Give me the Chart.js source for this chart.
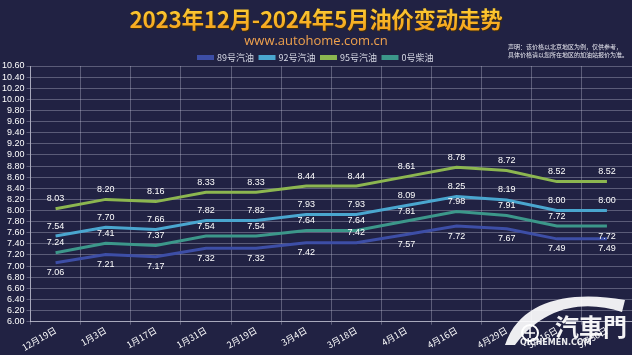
<!DOCTYPE html>
<html><head><meta charset="utf-8">
<script src="https://cdn.jsdelivr.net/npm/chart.js@4/dist/chart.umd.min.js"></script>
<style>
html,body{margin:0;padding:0;background:#212243;width:632px;height:355px;overflow:hidden;}
#wrap{position:relative;width:632px;height:355px;}
#c{position:absolute;left:0;top:0;}
.title{position:absolute;left:0;width:632px;top:2px;text-align:center;font:bold 22.5px "Noto Sans CJK SC";letter-spacing:-0.3px;
 background:linear-gradient(#ffd83a,#f39a18);-webkit-background-clip:text;background-clip:text;-webkit-text-fill-color:transparent;
 filter:drop-shadow(1px 1px 0 #3a2a10);}
.sub{position:absolute;left:0;width:632px;top:31px;text-align:center;font:13px "Open Sans";color:#f0a24e;}
.note{position:absolute;left:508px;top:43px;font:6px "Noto Sans CJK SC";color:#e8e8f0;line-height:8px;white-space:nowrap;}
.wm{position:absolute;left:555px;top:308px;font:bold 24px "Noto Sans CJK TC";color:#fff;opacity:0.95;}
.wm2{position:absolute;left:520px;top:338px;font:bold 8px "DejaVu Sans";color:#fff;opacity:0.9;}
svg{position:absolute;left:0;top:0;}
</style></head>
<body><div id="wrap">
<canvas id="c" width="632" height="355"></canvas>
<div class="title">2023年12月-2024年5月油价变动走势</div>
<div class="sub">www.autohome.com.cn</div>
<div class="note">声明：该价格以北京地区为例，仅供参考，<br>具体价格请以您所在地区的加油站报价为准。</div>
<svg width="632" height="355"><path d="M505 345 C 520 300, 570 290, 625 300 L 622 312 C 585 300, 545 305, 515 345 Z" fill="#ffffff" opacity="0.92"/>
<circle cx="530" cy="333" r="8" fill="none" stroke="#fff" stroke-width="2"/><path d="M525 333 H535 M530 328 V338" stroke="#fff" stroke-width="1.5"/></svg>
<div class="wm">汽車門</div>
<div class="wm2">QICHEMEN.COM</div>
</div>
<script>
const categories = ["12月19日","1月3日","1月17日","1月31日","2月19日","3月4日","3月18日","4月1日","4月16日","4月29日","5月16日","5月30日"];
const seriesNames = ["89号汽油","92号汽油","95号汽油","0号柴油"];
const gas89 = [7.06,7.21,7.17,7.32,7.32,7.42,7.42,7.57,7.72,7.67,7.49,7.49];
const gas92 = [7.54,7.70,7.66,7.82,7.82,7.93,7.93,8.09,8.25,8.19,8.00,8.00];
const gas95 = [8.03,8.20,8.16,8.33,8.33,8.44,8.44,8.61,8.78,8.72,8.52,8.52];
const diesel0 = [7.24,7.41,7.37,7.54,7.54,7.64,7.64,7.81,7.98,7.91,7.72,7.72];
const yTicksMin = 6.00, yTicksMax = 10.60, yTickStep = 0.20;

const colors = ["#3d4ea6","#4aa6cf","#8cb650","#3c978a"];
// label placement: -1 above, +1 below
const labelSide = [
  [1,1,1,1,1,1,-1,1,1,1,1,1],
  [-1,-1,-1,-1,-1,-1,-1,-1,-1,-1,-1,-1],
  [-1,-1,-1,-1,-1,-1,-1,-1,-1,-1,-1,-1],
  [-1,-1,-1,-1,-1,-1,-1,-1,-1,-1,-1,1]
];

const labelPlugin = {
  id:'vlabels',
  afterDatasetsDraw(chart){
    const ctx = chart.ctx;
    ctx.save();
    ctx.font = '9px "Liberation Sans"';
    ctx.fillStyle = '#ffffff';
    ctx.textAlign = 'center';
    ctx.textBaseline = 'middle';
    chart.data.datasets.forEach((ds,di)=>{
      chart.getDatasetMeta(di).data.forEach((pt,i)=>{
        const side = labelSide[di][i];
        ctx.fillText(ds.data[i].toFixed(2), pt.x, pt.y + side*10);
      });
    });
    ctx.restore();
  }
};
const legendTrim = {
  id:'legendTrim',
  beforeInit(chart){
    const lg = chart.legend;
    if(!lg) return;
    const fit = lg.fit;
    lg.fit = function(){ fit.call(this); this.height -= 6; };
  }
};

const seriesData = [gas89,gas92,gas95,diesel0];
new Chart(document.getElementById('c'),{
  type:'line',
  data:{labels:categories,datasets:seriesData.map((d,i)=>({
    label:seriesNames[i],data:d,borderColor:colors[i],backgroundColor:colors[i],
    borderWidth:3,pointRadius:0,tension:0}))},
  options:{
    responsive:false,animation:false,
    layout:{padding:{top:47,left:0,right:0,bottom:2}},
    plugins:{
      legend:{position:'top',labels:{color:'#d8dae6',font:{size:9,family:'"Noto Sans CJK SC"'},boxWidth:14,boxHeight:2,padding:6}},
      tooltip:{enabled:false}
    },
    scales:{
      x:{offset:true,grid:{offset:true,color:'rgba(200,200,220,0.35)',tickLength:3},border:{color:'rgba(220,220,235,0.6)'},
        ticks:{color:'#ffffff',font:{size:9,family:'"Noto Sans CJK SC"'},minRotation:30,maxRotation:30,padding:0}},
      y:{min:yTicksMin,max:yTicksMax,grid:{color:'rgba(200,200,220,0.35)',tickLength:4},border:{color:'rgba(220,220,235,0.6)'},
        ticks:{stepSize:yTickStep,autoSkip:false,color:'#ffffff',font:{size:9,family:'"Liberation Sans"'},padding:2,callback:v=>Number(v).toFixed(2)}}
    }
  },
  plugins:[legendTrim,labelPlugin]
});
</script>
</body></html>
